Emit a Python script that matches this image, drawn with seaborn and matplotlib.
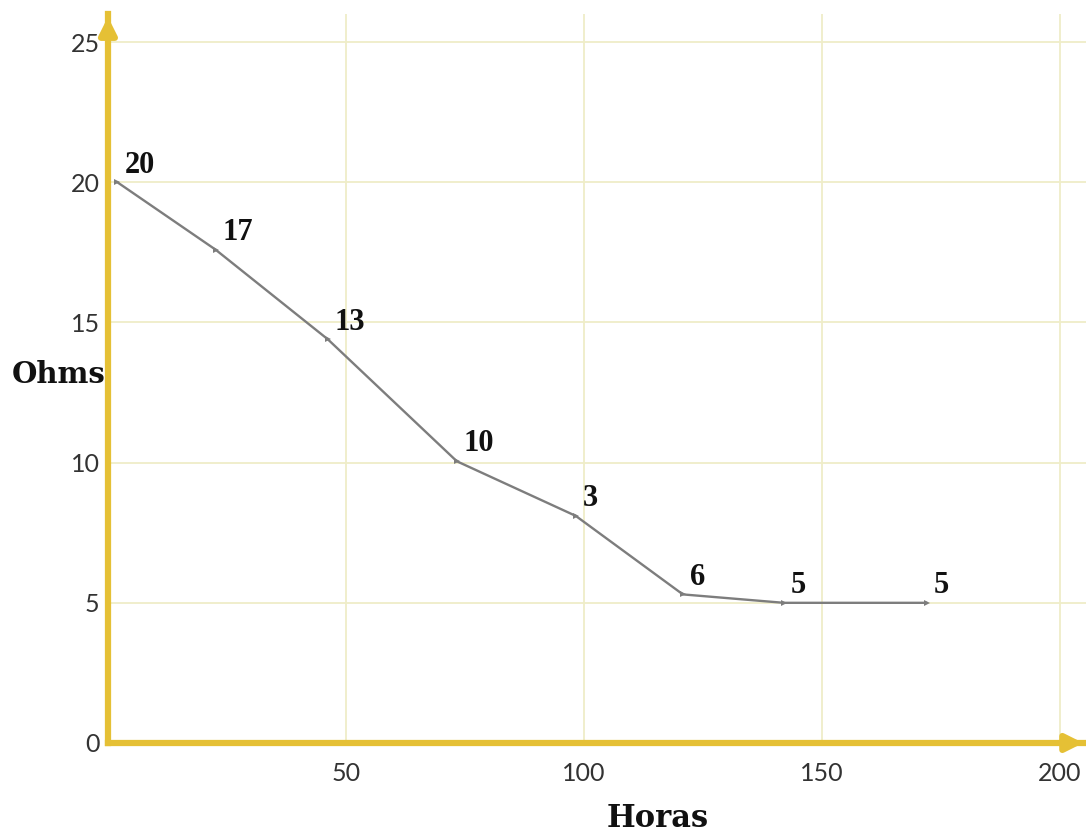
import numpy as np
import pandas as pd
import matplotlib
matplotlib.use("Agg")
import matplotlib.pyplot as plt
import seaborn as sns

# values
horas = [2, 22.6, 46.2, 73.3, 98.3, 120.8, 142.0, 172.0]
ohms = [20.0, 17.6, 14.4, 10.05, 8.1, 5.3, 5.0, 5.0]
point_labels = ["20", "17", "13", "10", "3", "6", "5", "5"]
xticks = [50, 100, 150, 200]
yticks = [0, 5, 10, 15, 20, 25]

sns.set_theme(style="white")
plt.rcParams['font.family'] = ['Lato', 'DejaVu Sans']

axis_col = "#e5c035"
grid_col = "#efedc8"
line_col = "#7d7d7d"

fig = plt.figure(figsize=(10.86, 8.32), dpi=100)
ax = fig.add_axes([0.0994, 0.107, 0.9006, 0.876])

df = pd.DataFrame({"Horas": horas, "Ohms": ohms})
sns.lineplot(data=df, x="Horas", y="Ohms", color=line_col, linewidth=1.7,
             marker=">", markersize=4, markeredgewidth=0, ax=ax)

for x, y, lab in zip(horas, ohms, point_labels):
    ax.annotate(lab, (x, y), xytext=(5, 2), textcoords="offset points",
                ha="left", va="bottom", fontsize=22, fontweight="bold",
                family="Liberation Serif", color="#111111")

ax.set_xlim(0, 205.5)
ax.set_ylim(0, 26.0)
ax.set_xticks(xticks)
ax.set_yticks(yticks)
ax.grid(True, color=grid_col, linewidth=1.3)
ax.set_axisbelow(True)
ax.tick_params(axis="both", length=0, labelsize=18, labelcolor="#333333", pad=6)
ax.tick_params(axis="x", pad=14)

for side in ["top", "right"]:
    ax.spines[side].set_visible(False)
for side in ["left", "bottom"]:
    ax.spines[side].set_color(axis_col)
    ax.spines[side].set_linewidth(4.5)

# arrow heads at the end of both axes
ax.annotate("", xy=(1.0, 0), xycoords="axes fraction", xytext=(0.97, 0),
            arrowprops=dict(arrowstyle="-|>", color=axis_col, lw=4.5, mutation_scale=25))
ax.annotate("", xy=(0, 1.0), xycoords="axes fraction", xytext=(0, 0.97),
            arrowprops=dict(arrowstyle="-|>", color=axis_col, lw=4.5, mutation_scale=25))

ax.set_xlabel("Horas", fontsize=22, fontweight="bold", family="DejaVu Serif", color="#111111")
ax.set_ylabel("Ohms", fontsize=21, fontweight="bold", family="DejaVu Serif", color="#111111",
              rotation=0)
ax.xaxis.set_label_coords(0.562, -0.082)
ax.yaxis.set_label_coords(-0.05, 0.485)

fig.savefig("out.png", dpi=100)
